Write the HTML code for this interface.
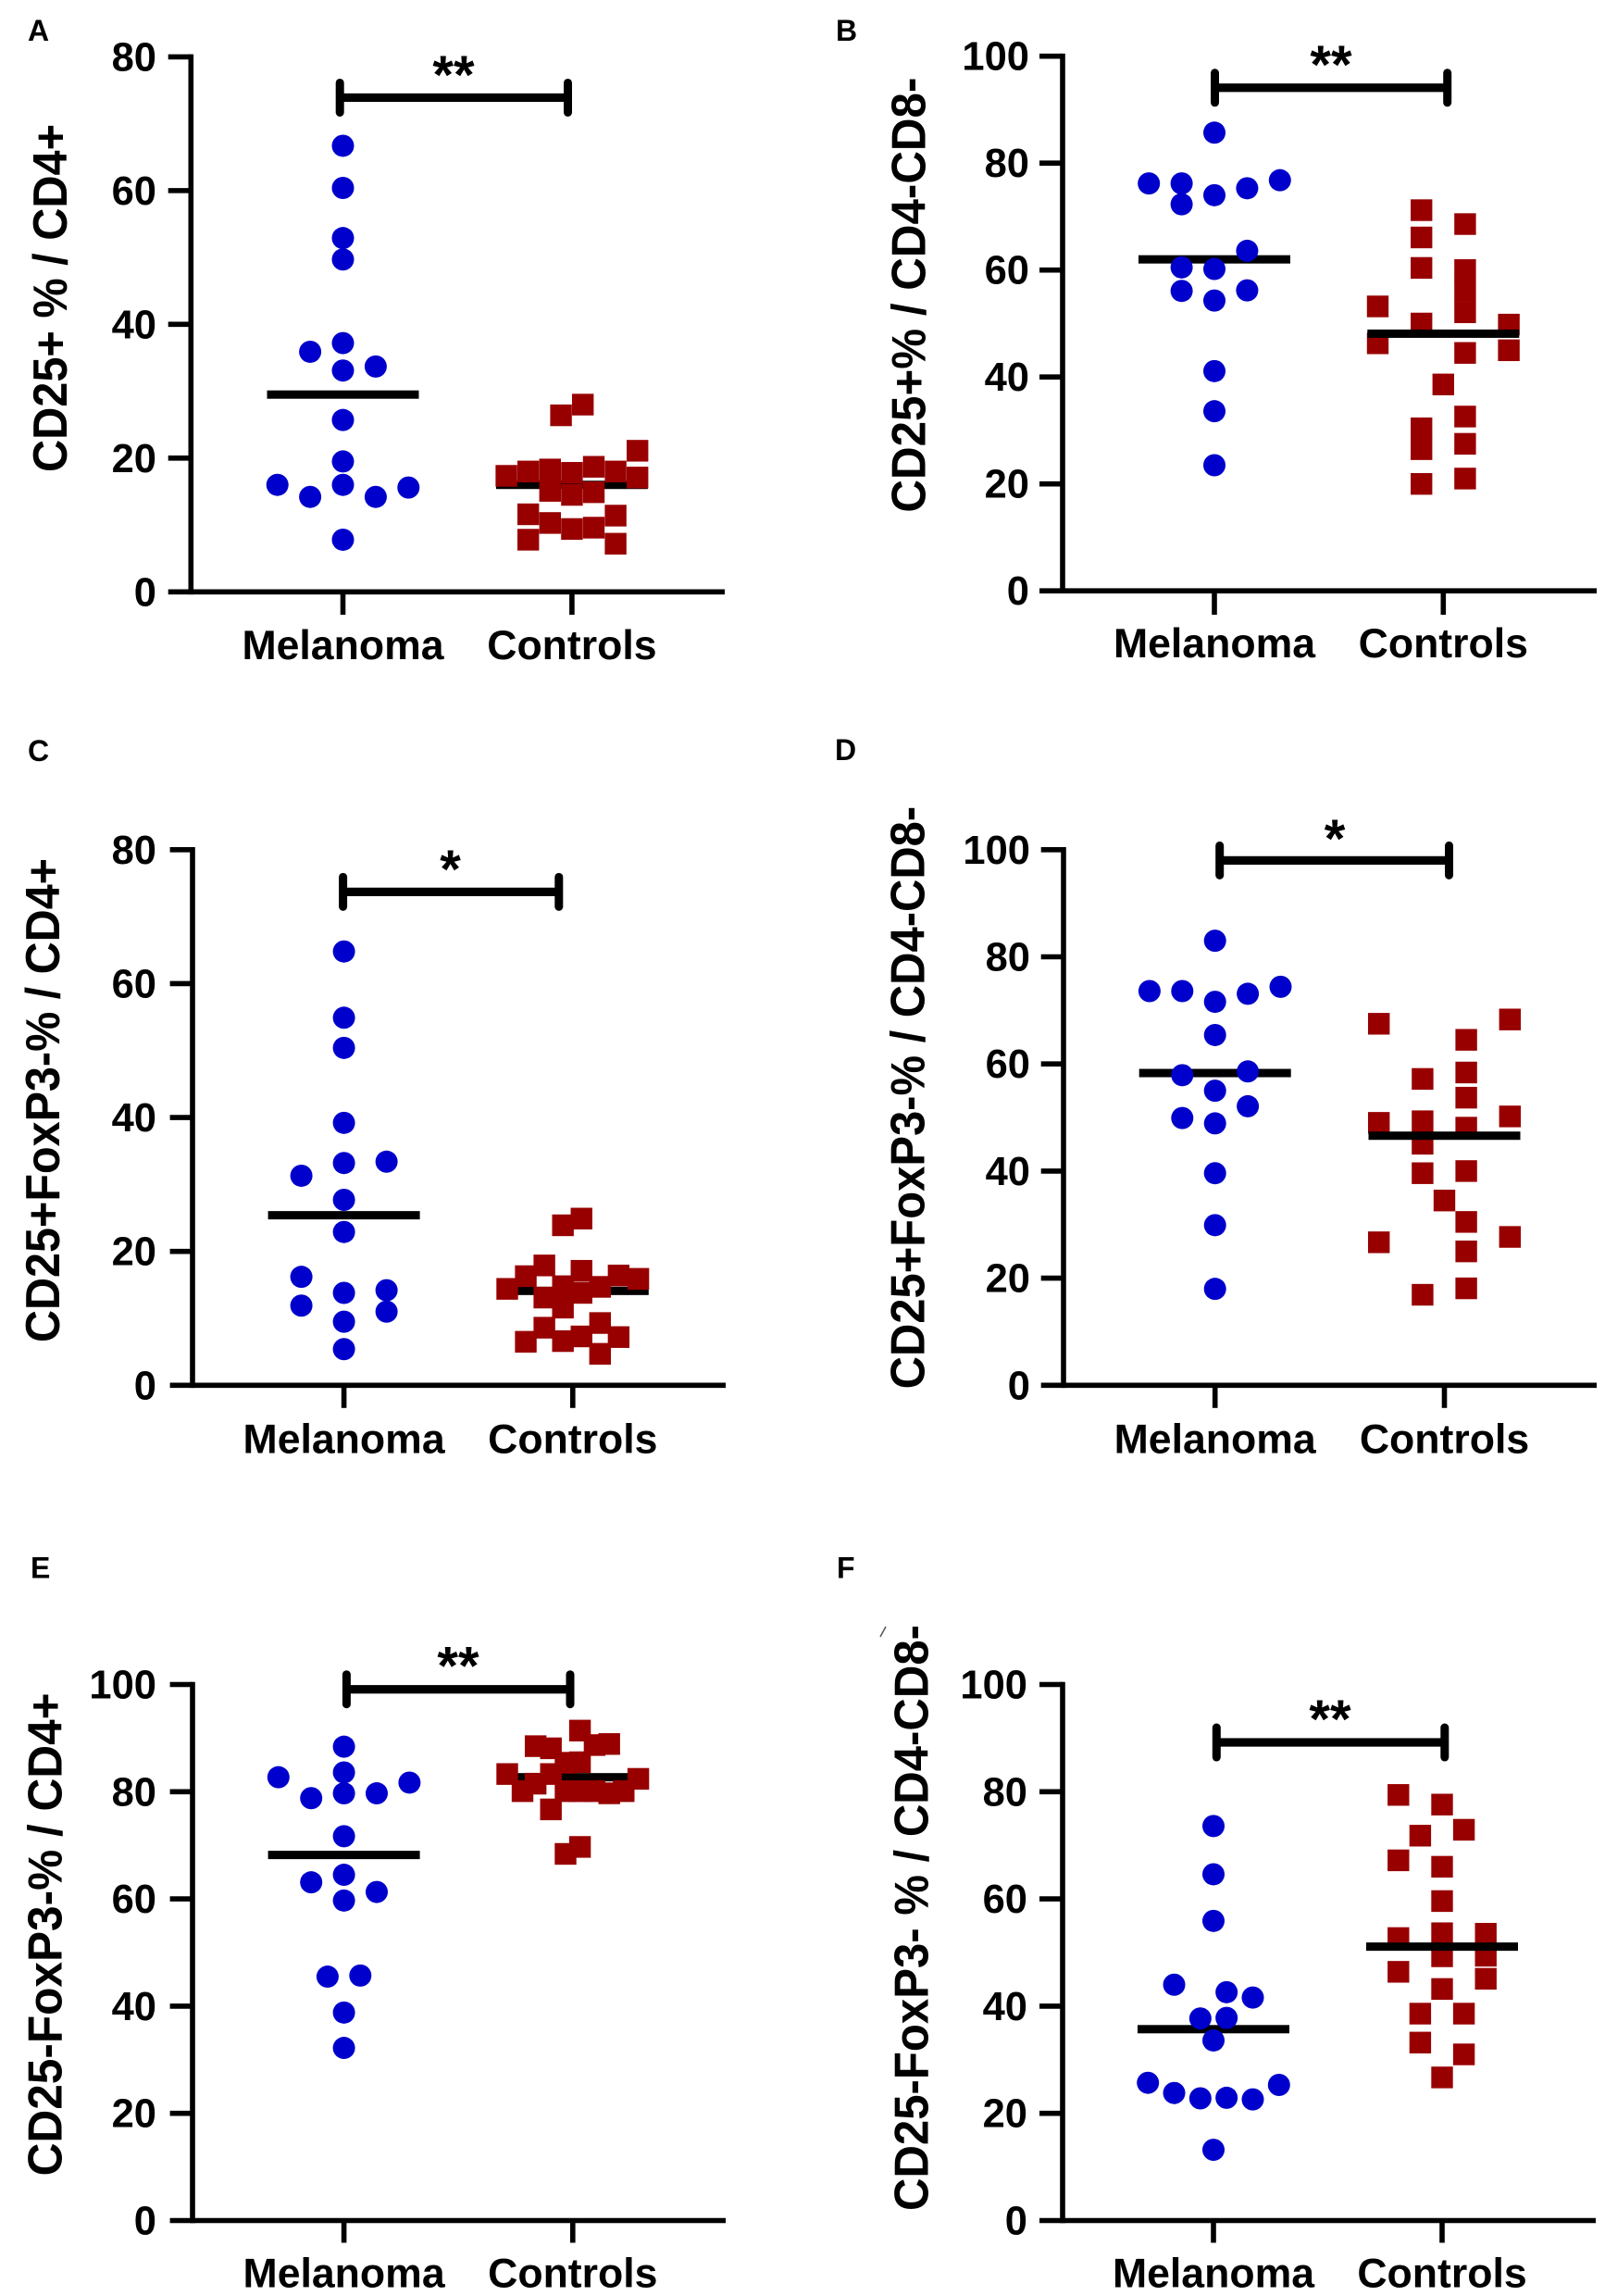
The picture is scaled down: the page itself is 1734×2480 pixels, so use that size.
<!DOCTYPE html>
<html lang="en">
<head>
<meta charset="utf-8">
<title>CD25 and FoxP3 percentages in melanoma and controls</title>
<style>
html,body{margin:0;padding:0;background:#fff;width:1734px;height:2480px;overflow:hidden}
svg{display:block}
text{font-family:"Liberation Sans",Arial,sans-serif;font-weight:700;fill:#000}
</style>
</head>
<body>
<svg id="figure" xmlns="http://www.w3.org/2000/svg" width="1734" height="2480" viewBox="0 0 1734 2480">
<rect x="0" y="0" width="1734" height="2480" fill="#ffffff"/>
<line x1="951" y1="1768" x2="957" y2="1757" stroke="#555" stroke-width="1.5"/>
</svg>
<script>
const categories = ['Melanoma', 'Controls'];
const ticks80 = [0, 20, 40, 60, 80];
const ticks100 = [0, 20, 40, 60, 80, 100];

const melanomaA = [66.7, 60.4, 52.9, 49.7, 37.2, 33.1, 25.7, 19.5, 16.0, 7.8, 35.9, 14.2, 33.7, 14.2, 16.0, 15.6];
const melanomaColA = [0, 0, 0, 0, 0, 0, 0, 0, 0, 0, -1, -1, 1, 1, -2, 2];
const controlsA = [17.35, 18.0, 11.6, 7.8, 18.3, 15.1, 10.3, 26.4, 17.8, 14.5, 9.4, 18.7, 14.9, 9.6, 28.0, 18.0, 11.4, 7.2, 21.1, 17.1];
const controlsColA = [-3, -2, -2, -2, -1, -1, -1, -0.5, 0, 0, 0, 1, 1, 1, 0.5, 2, 2, 2, 3, 3];
const meansA = [29.5, 16.0];

const melanomaB = [85.7, 74.0, 60.2, 54.3, 41.1, 33.6, 23.5, 76.2, 72.3, 60.5, 56.1, 76.2, 75.3, 63.6, 56.2, 76.8];
const melanomaColB = [0, 0, 0, 0, 0, 0, 0, -1, -1, -1, -1, -2, 1, 1, 1, 2];
const controlsB = [53.2, 46.3, 71.2, 66.1, 60.4, 50.0, 30.4, 26.5, 20.0, 68.6, 60.0, 56.1, 52.1, 44.5, 32.6, 27.5, 21.0, 38.6, 49.8, 45.0];
const controlsColB = [-3, -3, -1, -1, -1, -1, -1, -1, -1, 1, 1, 1, 1, 1, 1, 1, 1, 0, 3, 3];
const meansB = [62.0, 48.1];

const melanomaC = [64.8, 54.9, 50.4, 39.2, 33.2, 27.7, 22.9, 13.8, 9.5, 5.4, 31.3, 16.2, 11.9, 33.4, 14.2, 11.0];
const melanomaColC = [0, 0, 0, 0, 0, 0, 0, 0, 0, 0, -1.3, -1.3, -1.3, 1.3, 1.3, 1.3];
const controlsC = [14.4, 16.3, 17.9, 13.1, 14.8, 11.6, 17.1, 13.8, 14.7, 16.4, 15.9, 23.9, 24.9, 6.5, 8.6, 6.6, 7.3, 9.3, 4.7, 7.2];
const controlsColC = [-3, -2.15, -1.3, -1.3, -0.45, -0.45, 0.4, 0.4, 1.25, 2.1, 3, -0.45, 0.4, -2.15, -1.3, -0.45, 0.4, 1.25, 1.25, 2.1];
const meansC = [25.4, 14.1];

const melanomaD = [83.0, 71.6, 65.4, 55.0, 48.9, 39.6, 29.9, 18.0, 73.6, 57.9, 49.9, 73.6, 73.1, 58.6, 52.1, 74.4];
const melanomaColD = [0, 0, 0, 0, 0, 0, 0, 0, -1, -1, -1, -2, 1, 1, 1, 2];
const controlsD = [67.5, 49.0, 26.7, 57.2, 49.3, 45.1, 39.6, 16.9, 64.5, 58.4, 53.7, 48.1, 40.0, 30.5, 25.0, 18.1, 34.5, 68.3, 50.2, 27.7];
const controlsColD = [-3, -3, -3, -1, -1, -1, -1, -1, 1, 1, 1, 1, 1, 1, 1, 1, 0, 3, 3, 3];
const meansD = [58.3, 46.6];

const melanomaE = [88.4, 83.6, 79.7, 71.7, 64.5, 59.7, 38.8, 32.2, 78.8, 63.1, 79.7, 61.3, 82.7, 81.7, 45.5, 45.7];
const melanomaColE = [0, 0, 0, 0, 0, 0, 0, 0, -1, -1, 1, 1, -2, 2, -0.5, 0.5];
const controlsE = [83.3, 80.1, 88.5, 81.5, 88.1, 83.3, 76.7, 68.4, 85.4, 80.1, 91.4, 85.5, 69.7, 80.1, 88.7, 80.1, 88.9, 79.7, 80.1, 82.4];
const controlsColE = [-3, -2.3, -1.7, -1.7, -1, -1, -1, -0.33, -0.33, -0.33, 0.33, 0.33, 0.33, 0.33, 1, 1, 1.67, 1.67, 2.33, 3];
const meansE = [68.2, 82.7];

const melanomaF = [73.6, 64.6, 55.9, 33.6, 13.2, 44.0, 23.8, 42.6, 37.8, 22.9, 41.6, 22.6, 37.7, 22.8, 25.7, 25.3];
const melanomaColF = [0, 0, 0, 0, 0, -1.2, -1.2, 0.4, 0.4, 0.4, 1.2, 1.2, -0.4, -0.4, -2, 2];
const controlsF = [79.4, 67.2, 52.7, 46.4, 71.8, 38.6, 33.2, 77.6, 66.0, 59.6, 53.6, 49.3, 43.2, 26.7, 72.9, 38.6, 31.0, 53.5, 49.4, 45.1];
const controlsColF = [-2, -2, -2, -2, -1, -1, -1, 0, 0, 0, 0, 0, 0, 0, 1, 1, 1, 2, 2, 2];
const meansF = [35.7, 51.1];

const bracketValues = [73.9, 94.1, 73.7, 98.0, 99.1, 89.2];
const significance = ['**', '**', '*', '*', '**', '**'];
const panelLetters = ['A', 'B', 'C', 'D', 'E', 'F'];
const yTitles = ['CD25+ % / CD4+', 'CD25+% / CD4-CD8-', 'CD25+FoxP3-% / CD4+', 'CD25+FoxP3-% / CD4-CD8-', 'CD25-FoxP3-% / CD4+', 'CD25-FoxP3- % / CD4-CD8-'];
const tickSets = [ticks80, ticks100, ticks80, ticks100, ticks100, ticks100];
const melanomaSets = [melanomaA, melanomaB, melanomaC, melanomaD, melanomaE, melanomaF];
const melanomaCols = [melanomaColA, melanomaColB, melanomaColC, melanomaColD, melanomaColE, melanomaColF];
const controlsSets = [controlsA, controlsB, controlsC, controlsD, controlsE, controlsF];
const controlsCols = [controlsColA, controlsColB, controlsColC, controlsColD, controlsColE, controlsColF];
const meanSets = [meansA, meansB, meansC, meansD, meansE, meansF];

/* Panel layout (frame geometry only; the data lives in the arrays above) */
const frames = [
  {ax:206.3, top:61.4,  bottom:639.3,  end:783,  left:181.7, mel:370.5, con:617.9, tickEnd:664,    lab:712,    numR:169,  letX:30,  letY:44,     titleX:72,    titleY:510,  titleLen:376, brL:-3.3, brR:-4.4, starX:490,  starY:75,   lineOver:false},
  {ax:1148,  top:60.7,  bottom:638.2,  end:1725, left:1123,  mel:1312,  con:1559.3,tickEnd:664,    lab:710,    numR:1112, letX:903, letY:44,     titleX:999.7, titleY:553.6,titleLen:470, brL:0.5,  brR:4.4,  starX:1438, starY:64,   lineOver:true},
  {ax:208,   top:917.8, bottom:1496.3, end:784,  left:183.6, mel:371.6, con:618.8, tickEnd:1520.8, lab:1569.3, numR:169,  letX:30,  letY:822,    titleX:64,    titleY:1450, titleLen:523, brL:-1,   brR:-15,  starX:486.6,starY:933,  lineOver:false},
  {ax:1149,  top:917.8, bottom:1496.3, end:1725, left:1124.7,mel:1312.7,con:1560.5,tickEnd:1520.8, lab:1569.3, numR:1113, letX:902, letY:821,    titleX:998.6, titleY:1500.4,titleLen:629.6,brL:5,  brR:5,    starX:1442, starY:900,  lineOver:true},
  {ax:208,   top:1819.5,bottom:2398.5, end:784,  left:183.6, mel:371.6, con:618.8, tickEnd:2422.5, lab:2470.6, numR:169,  letX:33,  letY:1704.5, titleX:66.4,  titleY:2350.4,titleLen:522, brL:2.8,  brR:-2.8, starX:495,  starY:1793.4,lineOver:false},
  {ax:1148,  top:1819.5,bottom:2398.5, end:1724, left:1123,  mel:1311,  con:1558,  tickEnd:2422.5, lab:2470.6, numR:1110, letX:904, letY:1704.5, titleX:1002.5,titleY:2388, titleLen:633, brL:3.3,  brR:2.8,  starX:1437, starY:1851, lineOver:true}
];

const SVG_NS = 'http://www.w3.org/2000/svg';
const figure = document.getElementById('figure');
const BLUE = '#0000cc';
const RED = '#980000';
const DOT = 24;
const SQUARE = 23.4;
const MEAN_HALF = 82;
const MEL_COL = 35.4;
const CON_COL = 23.6;
const AXIS_W = 5.6;

function node(parent, tag, props) {
  const el = document.createElementNS(SVG_NS, tag);
  for (const k in props) el.setAttribute(k, props[k]);
  parent.appendChild(el);
  return el;
}
function yScale(f, maxV) {
  return function (v) { return f.bottom - (v / maxV) * (f.bottom - f.top); };
}
function xScale(f) {
  return function (cat, col) {
    return cat === 0 ? f.mel + col * MEL_COL : f.con + col * CON_COL;
  };
}
function drawMean(group, f, x, y, cat, value) {
  const mean = node(group, 'rect', {x: x(cat, 0) - MEAN_HALF, y: y(value) - 4.5, width: MEAN_HALF * 2, height: 9, fill: '#000'});
  
  
}

frames.forEach(function (f, i) {
  const ticks = tickSets[i];
  const maxV = ticks[ticks.length - 1];
  const y = yScale(f, maxV);
  const x = xScale(f);
  const letter = panelLetters[i].toLowerCase();

  const g = node(figure, 'g', {});
  
  

  const lab = node(g, 'text', {x: f.letX, y: f.letY, 'font-size': 32});
  lab.textContent = panelLetters[i];
  
  

  const title = node(g, 'text', {
    transform: 'translate(' + f.titleX + ',' + f.titleY + ') rotate(-90)',
    x: 0, y: 0, 'font-size': 52, textLength: f.titleLen, lengthAdjust: 'spacingAndGlyphs'
  });
  title.textContent = yTitles[i];
  
  

  const yAxis = node(g, 'line', {x1: f.ax, x2: f.ax, y1: f.top - AXIS_W / 2, y2: f.bottom + AXIS_W / 2, stroke: '#000', 'stroke-width': AXIS_W});
  
  

  const xAxis = node(g, 'line', {x1: f.left, x2: f.end, y1: f.bottom, y2: f.bottom, stroke: '#000', 'stroke-width': AXIS_W});
  
  

  ticks.forEach(function (t) {
    if (t !== 0) {
      const tk = node(g, 'line', {x1: f.left, x2: f.ax, y1: y(t), y2: y(t), stroke: '#000', 'stroke-width': AXIS_W});
      
      
    }
    const tl = node(g, 'text', {x: f.numR, y: y(t) + 15, 'font-size': 43.5, 'text-anchor': 'end'});
    tl.textContent = String(t);
    
    
  });

  categories.forEach(function (c, ci) {
    const tk = node(g, 'line', {x1: x(ci, 0), x2: x(ci, 0), y1: f.bottom, y2: f.tickEnd, stroke: '#000', 'stroke-width': AXIS_W});
    
    
    const tl = node(g, 'text', {x: x(ci, 0), y: f.lab, 'font-size': 44.6, 'text-anchor': 'middle'});
    tl.textContent = c;
    
    
  });

  /* significance bracket */
  const by = y(bracketValues[i]);
  const bl = x(0, 0) + f.brL;
  const br = x(1, 0) + f.brR;
  const bar = node(g, 'rect', {x: bl, y: by - 4.6, width: br - bl, height: 9.2, fill: '#000'});
  
  
  const capL = node(g, 'line', {x1: bl, x2: bl, y1: by - 16, y2: by + 16, stroke: '#000', 'stroke-width': 9, 'stroke-linecap': 'round'});
  
  
  const capR = node(g, 'line', {x1: br, x2: br, y1: by - 16, y2: by + 16, stroke: '#000', 'stroke-width': 9, 'stroke-linecap': 'round'});
  
  
  const star = node(g, 'text', {x: f.starX, y: f.starY + 26, 'font-size': 58, 'text-anchor': 'middle'});
  star.textContent = significance[i];
  
  

  /* melanoma series */
  drawMean(g, f, x, y, 0, meanSets[i][0]);
  melanomaSets[i].forEach(function (v, k) {
    const c = node(g, 'circle', {cx: x(0, melanomaCols[i][k]), cy: y(v), r: DOT / 2, fill: BLUE});
    
    
  });

  /* controls series */
  if (!f.lineOver) drawMean(g, f, x, y, 1, meanSets[i][1]);
  controlsSets[i].forEach(function (v, k) {
    const s = node(g, 'rect', {x: x(1, controlsCols[i][k]) - SQUARE / 2, y: y(v) - SQUARE / 2, width: SQUARE, height: SQUARE, fill: RED});
    
    
  });
  if (f.lineOver) drawMean(g, f, x, y, 1, meanSets[i][1]);
});
</script>
</body>
</html>
